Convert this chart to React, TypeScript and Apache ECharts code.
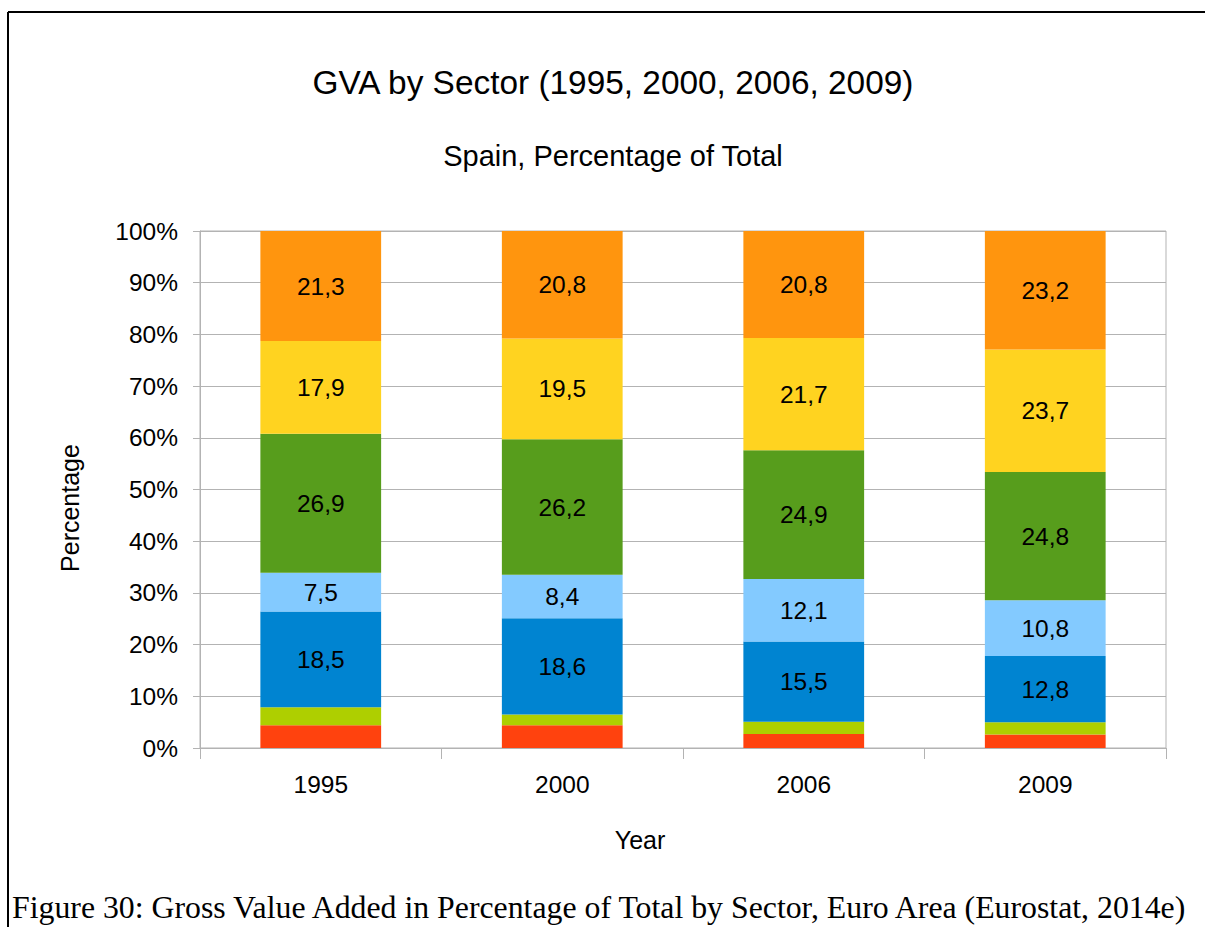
import React, { useEffect, useRef } from "react";
import * as echarts from "echarts";

const years = ["1995", "2000", "2006", "2009"];
const sectorNames = ["S1", "S2", "S3", "S4", "S5", "S6", "S7"];
const s1 = [4.4, 4.4, 2.7, 2.6];
const s2 = [3.5, 2.1, 2.4, 2.4];
const s3 = [18.5, 18.6, 15.5, 12.8];
const s4 = [7.5, 8.4, 12.1, 10.8];
const s5 = [26.9, 26.2, 24.9, 24.8];
const s6 = [17.9, 19.5, 21.7, 23.7];
const s7 = [21.3, 20.8, 20.8, 23.2];
const showLabel = [false, false, true, true, true, true, true];
const colors = ["#ff420e", "#aecf00", "#0084d1", "#83caff", "#579d1c", "#ffd320", "#ff950e"];
const yTicks = [0, 10, 20, 30, 40, 50, 60, 70, 80, 90, 100];

export default function App() {
  const ref = useRef<HTMLDivElement>(null);
  useEffect(() => {
    if (!ref.current) return;
    const chart = echarts.init(ref.current, null, { renderer: "svg" });
    const all = [s1, s2, s3, s4, s5, s6, s7];
    const font = "'Liberation Sans', Arial, sans-serif";
    chart.setOption({
      animation: false,
      backgroundColor: "#ffffff",
      textStyle: { fontFamily: font },
      grid: {
        left: 200,
        right: 39,
        top: 231,
        bottom: 179,
        show: true,
        borderColor: "#b3b3b3",
        borderWidth: 1,
        backgroundColor: "transparent",
      },
      xAxis: {
        type: "category",
        data: years,
        axisLine: { lineStyle: { color: "#b3b3b3", width: 1 } },
        axisTick: { show: true, length: 11, lineStyle: { color: "#b3b3b3" } },
        axisLabel: { color: "#000", fontSize: 24.5, margin: 24, fontFamily: font },
      },
      yAxis: {
        type: "value",
        min: yTicks[0],
        max: yTicks[yTicks.length - 1],
        interval: 10,
        axisLine: { show: true, lineStyle: { color: "#b3b3b3", width: 1 } },
        axisTick: { show: true, length: 7, lineStyle: { color: "#b3b3b3" } },
        splitLine: { lineStyle: { color: "#b3b3b3", width: 1 } },
        axisLabel: {
          color: "#000",
          fontSize: 24.5,
          margin: 22,
          fontFamily: font,
          formatter: "{value}%",
        },
      },
      series: all.map((d, i) => ({
        name: sectorNames[i],
        type: "bar",
        stack: "total",
        barWidth: "50%",
        data: d,
        itemStyle: { color: colors[i] },
        label: {
          show: showLabel[i],
          position: "inside",
          color: "#000",
          fontSize: 24.5,
          fontFamily: font,
          formatter: (p: any) => String(p.value).replace(".", ","),
        },
      })),
      graphic: [
        {
          type: "line",
          shape: { x1: 8, y1: 12, x2: 1205, y2: 12 },
          style: { stroke: "#000", lineWidth: 2 },
        },
        {
          type: "line",
          shape: { x1: 8, y1: 12, x2: 8, y2: 927 },
          style: { stroke: "#000", lineWidth: 2 },
        },
        {
          type: "text",
          x: 613,
          y: 82,
          style: {
            text: "GVA by Sector (1995, 2000, 2006, 2009)",
            fontSize: 33.4,
            fontFamily: font,
            fill: "#000",
            align: "center",
            verticalAlign: "middle",
          },
        },
        {
          type: "text",
          x: 613,
          y: 156,
          style: {
            text: "Spain, Percentage of Total",
            fontSize: 29,
            fontFamily: font,
            fill: "#000",
            align: "center",
            verticalAlign: "middle",
          },
        },
        {
          type: "text",
          x: 640,
          y: 840,
          style: {
            text: "Year",
            fontSize: 25,
            fontFamily: font,
            fill: "#000",
            align: "center",
            verticalAlign: "middle",
          },
        },
        {
          type: "text",
          x: 70,
          y: 508,
          rotation: Math.PI / 2,
          style: {
            text: "Percentage",
            fontSize: 25,
            fontFamily: font,
            fill: "#000",
            align: "center",
            verticalAlign: "middle",
          },
        },
        {
          type: "text",
          x: 12,
          y: 907,
          style: {
            text: "Figure 30: Gross Value Added in Percentage of Total by Sector, Euro Area (Eurostat, 2014e)",
            fontSize: 31.8,
            fontFamily: "'Liberation Serif', 'Times New Roman', serif",
            fill: "#000",
            align: "left",
            verticalAlign: "middle",
          },
        },
      ],
    });
    return () => chart.dispose();
  }, []);
  return (
    <div
      ref={ref}
      style={{ position: "absolute", left: 0, top: 0, width: 1205, height: 927 }}
    />
  );
}
